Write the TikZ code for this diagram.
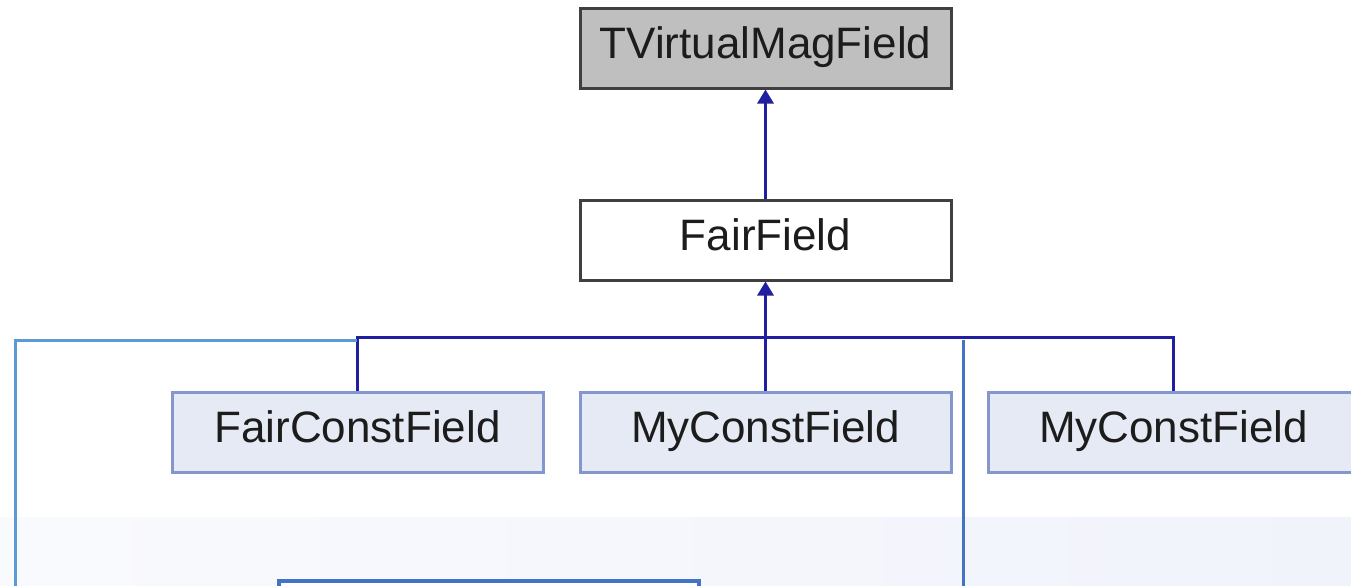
\documentclass[tikz,border=0pt]{standalone}
\usepackage{fontspec}
\setmainfont{Liberation Sans}
\usetikzlibrary{arrows.meta}

\definecolor{edgeblue}{HTML}{1F1FA0}
\definecolor{basegray}{HTML}{BFBFBF}
\definecolor{boxline}{HTML}{404040}
\definecolor{childfill}{HTML}{E6EAF4}
\definecolor{childline}{HTML}{8396CF}
\definecolor{guidelight}{HTML}{5B9BD5}
\definecolor{guidedark}{HTML}{4472C4}
\definecolor{bandfill}{HTML}{F1F3FB}
\definecolor{labeltext}{HTML}{1C1C1C}

\tikzset{
  classbox/.style={draw=boxline, line width=1.5pt, minimum width=185.5pt,
    minimum height=40pt, inner sep=0pt, text height=16pt, text depth=5.5pt,
    text=labeltext, font=\fontsize{22}{26}\selectfont},
  basebox/.style={classbox, fill=basegray},
  plainbox/.style={classbox, fill=white},
  childbox/.style={classbox, draw=childline, fill=childfill},
  edge/.style={draw=edgeblue, line width=1.5pt},
  inherit/.style={edge, -{Triangle[width=8pt,length=7pt]}},
  guide/.style={line width=1.5pt},
}

\begin{document}
\begin{tikzpicture}[x=0.5pt, y=-0.5pt]
  \useasboundingbox (0,0) rectangle (1351,585);
  \clip (0,0) rectangle (1351,585);
  \fill[white] (0,0) rectangle (1351,585);

  % faint band along the lower edge
  \shade[left color=white!60!bandfill, right color=bandfill] (0,517) rectangle (1351,585);

  % class hierarchy
  \node[basebox]  (tvmf) at (765.5,48)  {TVirtualMagField};
  \node[plainbox] (ff)   at (765.5,240) {FairField};
  \node[childbox] (fcf)  at (357.5,432) {FairConstField};
  \node[childbox] (mcfa) at (765.5,432) {MyConstField};
  \node[childbox] (mcfb) at (1173.5,432) {MyConstField};

  \coordinate (bus) at (765.5,337);

  \draw[inherit] (ff.north) -- (tvmf.south);
  \draw[inherit] (mcfa.north) -- (ff.south);
  \draw[edge] (fcf.north) |- (bus);
  \draw[edge] (mcfb.north) |- (bus);

  % overlay guide lines and lower frame
  \coordinate (ga) at (357,340);
  \coordinate (gb) at (15,600);
  \coordinate (gc) at (963,340);
  \coordinate (gd) at (963,600);
  \draw[guide, guidelight] (ga) -| (gb);
  \draw[guide, guidedark] (gc) -- (gd);
  \node[draw=guidedark, line width=2pt, fill=white, minimum width=210pt,
        minimum height=30pt, inner sep=0pt, anchor=north west] (frame) at (277,579) {};
\end{tikzpicture}
\end{document}
